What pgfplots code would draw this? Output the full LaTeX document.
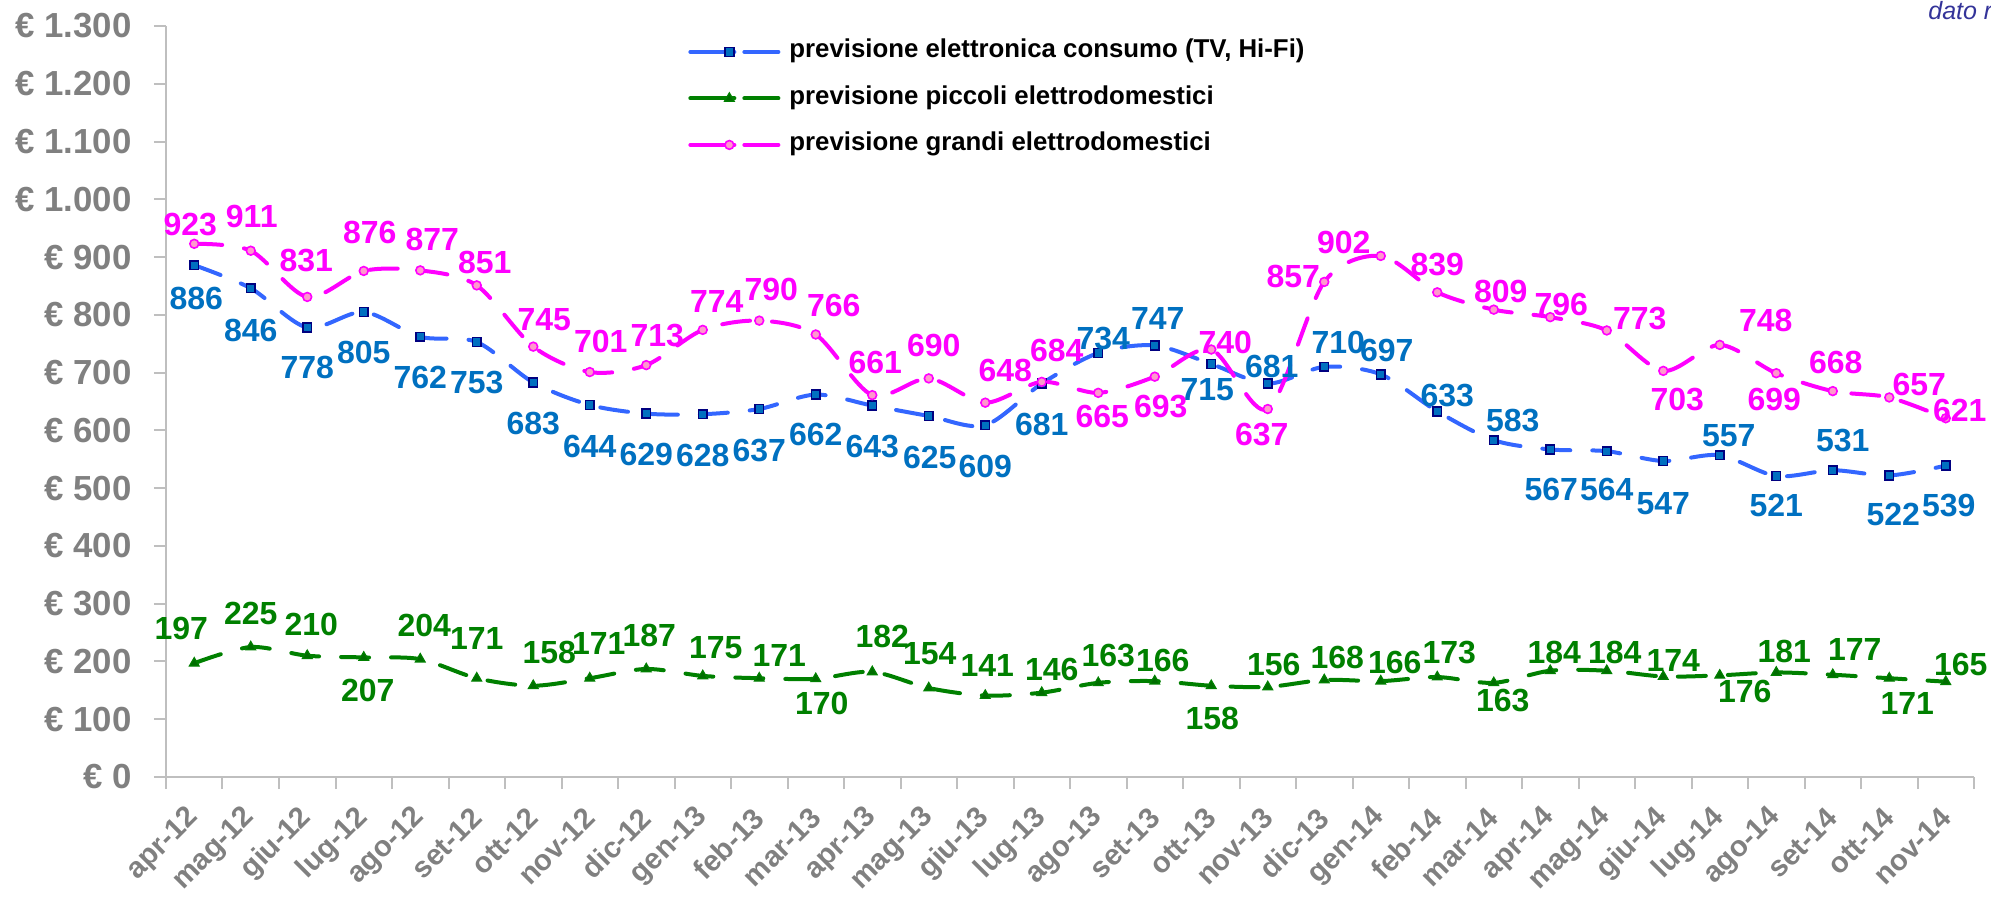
\documentclass[border=0pt]{standalone}
\usepackage{fontspec}
\setmainfont{Liberation Sans}
\usepackage{pgfplots}
\pgfplotsset{compat=1.18}
\usepackage{pgfplotstable}

\definecolor{lblue}{HTML}{3366FF}
\definecolor{bluetext}{HTML}{0070C0}
\definecolor{navy}{HTML}{000080}
\definecolor{markblue}{HTML}{0070C0}
\definecolor{mag}{HTML}{FF00FF}
\definecolor{pinkfill}{HTML}{FF99CC}
\definecolor{grn}{HTML}{008000}
\definecolor{axisgray}{HTML}{BFBFBF}
\definecolor{tickgray}{HTML}{808080}
\definecolor{datoblue}{HTML}{333399}

\pgfplotstableread{
x y dx dy
0 886 2 33
1 846 0 42
2 778 0 40
3 805 0 41
4 762 0 41
5 753 0 41
6 683 0 41
7 644 0 42
8 629 0 41
9 628 0 41
10 637 0 41
11 662 0 40
12 643 0 41
13 625 1 42
14 609 0 41
15 681 0 41
16 734 5 -14
17 747 3 -27
18 715 -4 26
19 681 4 -17
20 710 14 -24
21 697 6 -24
22 633 10 -16
23 583 19 -20
24 567 1 40
25 564 0 38
26 547 0 43
27 557 9 -20
28 521 0 29
29 531 10 -30
30 522 4 39
31 539 3 40
}\tblblue

\pgfplotstableread{
x y dx dy
0 923 -4 -19
1 911 1 -34
2 831 -1 -36
3 876 6 -38
4 877 12 -31
5 851 8 -23
6 745 11 -27
7 701 11 -31
8 713 11 -30
9 774 14 -28
10 790 12 -31
11 766 18 -29
12 661 3 -33
13 690 5 -33
14 648 20 -32
15 684 15 -31
16 665 4 24
17 693 6 30
18 740 14 -7
19 637 -6 25
20 857 -31 -5
21 902 -37 -13
22 839 0 -28
23 809 7 -18
24 796 11 -13
25 773 33 -12
26 703 14 29
27 748 46 -24
28 699 -2 26
29 668 3 -29
30 657 30 -13
31 621 14 -8
}\tblmag

\pgfplotstableread{
x y dx dy
0 197 -13 -35
1 225 0 -34
2 210 4 -31
3 207 4 33
4 204 4 -34
5 171 0 -40
6 158 16 -33
7 171 9 -35
8 187 3 -33
9 175 13 -28
10 171 20 -23
11 170 6 25
12 182 10 -35
13 154 1 -34
14 141 2 -30
15 146 10 -23
16 163 10 -27
17 166 8 -21
18 158 1 33
19 156 6 -22
20 168 13 -22
21 166 14 -19
22 173 12 -25
23 163 9 18
24 184 4 -18
25 184 8 -18
26 174 10 -16
27 176 25 16
28 181 8 -21
29 177 22 -25
30 171 18 25
31 165 15 -17
}\tblgreen

\begin{document}
\begin{tikzpicture}
\useasboundingbox (-83pt,-59.5pt) rectangle (912.5pt,388.5pt);
\begin{axis}[
  at={(0pt,0pt)}, anchor=south west,
  scale only axis, width=904pt, height=375.5pt,
  xmin=-0.5, xmax=31.5, ymin=0, ymax=1300,
  clip=false,
  axis lines*=left,
  axis line style={draw=axisgray, line width=1pt, -},
  tick align=outside, major tick length=6pt,
  tick style={draw=axisgray, line width=1pt},
  /pgf/number format/assume math mode=true,
  ytick={0,100,...,1300},
  yticklabels={€ 0,€ 100,€ 200,€ 300,€ 400,€ 500,€ 600,€ 700,€ 800,€ 900,€ 1.000,€ 1.100,€ 1.200,€ 1.300},
  yticklabel style={font=\fontsize{17.4}{17.4}\selectfont\bfseries, text=tickgray, anchor=east, inner sep=0pt, xshift=-11pt},
  xtick={-0.5,0.5,...,31.5},
  x tick label as interval,
  xticklabels={apr-12,mag-12,giu-12,lug-12,ago-12,set-12,ott-12,nov-12,dic-12,gen-13,feb-13,mar-13,apr-13,mag-13,giu-13,lug-13,ago-13,set-13,ott-13,nov-13,dic-13,gen-14,feb-14,mar-14,apr-14,mag-14,giu-14,lug-14,ago-14,set-14,ott-14,nov-14},
  xticklabel style={font=\fontsize{14.6}{14.6}\selectfont\bfseries, text=tickgray, yshift=-12pt, rotate=45, anchor=east, inner sep=0pt},
  legend style={at={(0.2887,0.982)}, anchor=north west, draw=none, fill=none, inner sep=0pt,
    row sep=11.25pt, font=\fontsize{12.9}{12.9}\selectfont\bfseries,
    nodes={inner sep=0pt, text height=9pt, text depth=3pt},
    /tikz/every odd column/.append style={column sep=4.5pt}},
  legend cell align=left,
  legend image code/.code={
    \draw[#1, dash pattern=on 22pt off 5pt] (0pt,0pt) -- (44pt,0pt);
    \draw[#1, only marks] plot coordinates {(19.5pt,0pt)};
  },
  every axis plot/.append style={line width=2pt, line cap=round, dash pattern=on 14pt off 11pt, smooth},
  visualization depends on={0.5*\thisrow{dx}\as\dx},
  visualization depends on={-0.5*\thisrow{dy}\as\dy},
  nodes near coords,
  every node near coord/.append style={anchor=center, inner sep=0pt, xshift=\dx pt, yshift=\dy pt, font=\fontsize{16}{16}\selectfont\bfseries},
]
\addplot[draw=lblue, mark=square*, mark size=2.2pt, mark options={solid, draw=navy, fill=markblue, line width=0.8pt},
  every node near coord/.append style={text=bluetext}] table[x=x,y=y] {\tblblue};
\addlegendentry{previsione elettronica consumo (TV, Hi-Fi)}
\addplot[draw=grn, mark=triangle*, mark size=2.8pt, mark options={solid, draw=grn, fill=grn!85!black, line width=0.6pt},
  every node near coord/.append style={text=grn}] table[x=x,y=y] {\tblgreen};
\addlegendentry{previsione piccoli elettrodomestici}
\addplot[draw=mag, mark=*, mark size=2.2pt, mark options={solid, draw=mag, fill=pinkfill, line width=0.8pt},
  every node near coord/.append style={text=mag}] table[x=x,y=y] {\tblmag};
\addlegendentry{previsione grandi elettrodomestici}
\end{axis}
\node[anchor=base west, inner sep=0pt, text=datoblue, font=\fontsize{12.5}{12.5}\selectfont\itshape] at (881pt,378.9pt) {dato reale};
\end{tikzpicture}
\end{document}
